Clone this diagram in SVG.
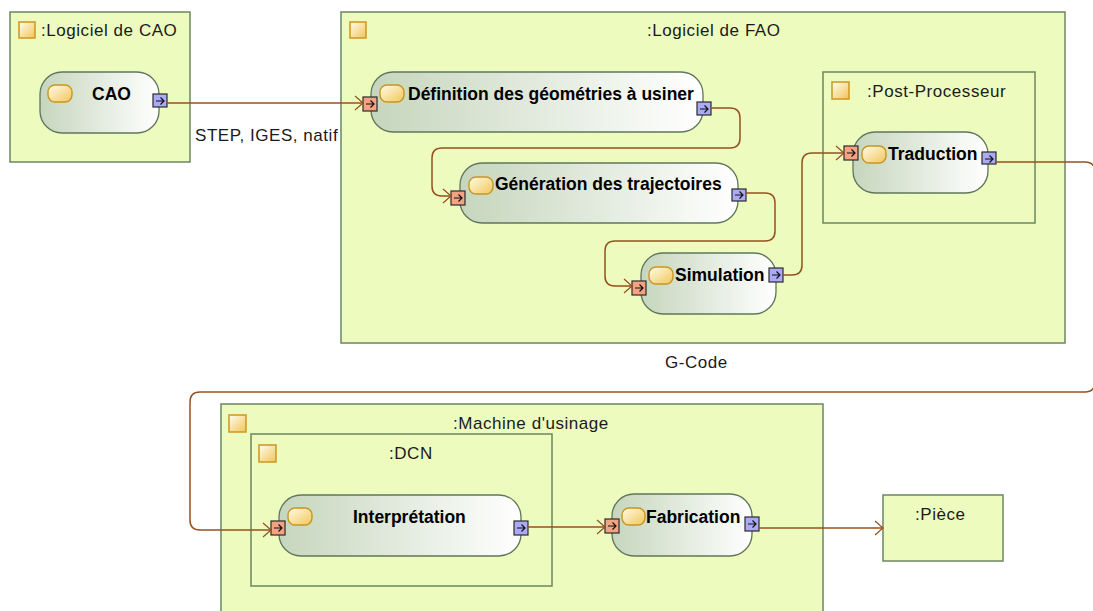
<svg xmlns="http://www.w3.org/2000/svg" width="1093" height="611" viewBox="0 0 1093 611">
<defs>
<linearGradient id="ng" x1="0" y1="0" x2="1" y2="0">
<stop offset="0" stop-color="#c6d6bd"/>
<stop offset="1" stop-color="#ffffff"/>
</linearGradient>
<linearGradient id="ig" x1="0" y1="0" x2="1" y2="1">
<stop offset="0" stop-color="#fffbe8"/>
<stop offset="1" stop-color="#f2c65a"/>
</linearGradient>
<linearGradient id="sg" x1="0" y1="0" x2="1" y2="1">
<stop offset="0" stop-color="#fffdf0"/>
<stop offset="1" stop-color="#f0c458"/>
</linearGradient>
<marker id="arr" markerUnits="userSpaceOnUse" markerWidth="12" markerHeight="16" refX="9" refY="8" orient="auto" overflow="visible">
<path d="M1,1 L9,8 L1,15" fill="none" stroke="#96501e" stroke-width="1.2"/>
</marker>
<g id="pinArrow"><path d="M3,7 H11 M7.5,3.5 L11,7 L7.5,10.5" fill="none" stroke="#111" stroke-width="1.2"/></g>
</defs>
<style>
.box{fill:#edfcbe;stroke:#6b875f;stroke-width:1.5}
.node{fill:url(#ng);stroke:#5f765a;stroke-width:1.3}
.ico{fill:url(#ig);stroke:#c8961e;stroke-width:1.4}
.sq{fill:url(#sg);stroke:#cf9b2a;stroke-width:1.6}
.pin-in{fill:#f5a283;stroke:#2a2a2a;stroke-width:1.2}
.pin-out{fill:#aaaaf6;stroke:#2a2a2a;stroke-width:1.2}
.t{font-family:"Liberation Sans",Arial,sans-serif;font-size:17px;letter-spacing:0.55px;fill:#1a1a1a}
.b{font-family:"Liberation Sans",Arial,sans-serif;font-size:17.5px;font-weight:bold;fill:#000}
.c{fill:none;stroke:#96501e;stroke-width:1.5}
</style>

<g id="logiciel-cao">
<rect class="box" x="10" y="12" width="180" height="150"/>
<rect class="sq" x="19" y="22" width="16" height="16"/>
<text class="t" x="41" y="36">:Logiciel de CAO</text>
</g>
<g id="cao">
<rect class="node" x="40" y="72" width="119" height="61" rx="22"/>
<rect class="ico" x="48" y="85" width="24" height="17" rx="7"/>
<text class="b" x="92" y="100">CAO</text>
<rect class="pin-out" x="153" y="94" width="14" height="13"/>
<use href="#pinArrow" x="153" y="94"/>
</g>

<g id="logiciel-fao">
<rect class="box" x="341" y="12" width="724" height="331"/>
<rect class="sq" x="350" y="22" width="16" height="16"/>
<text class="t" x="647" y="36">:Logiciel de FAO</text>
</g>
<g id="definition">
<rect class="node" x="371" y="72" width="332" height="60" rx="22"/>
<rect class="ico" x="380" y="85" width="24" height="17" rx="7"/>
<text class="b" x="408" y="100">Définition des géométries à usiner</text>
<rect class="pin-in" x="363" y="97" width="14" height="14"/>
<use href="#pinArrow" x="363" y="97"/>
<rect class="pin-out" x="697" y="102" width="14" height="13"/>
<use href="#pinArrow" x="697" y="102"/>
</g>
<g id="generation">
<rect class="node" x="460" y="163" width="278" height="60" rx="22"/>
<rect class="ico" x="469" y="177" width="24" height="17" rx="7"/>
<text class="b" x="495" y="190">Génération des trajectoires</text>
<rect class="pin-in" x="451" y="191" width="14" height="14"/>
<use href="#pinArrow" x="451" y="191"/>
<rect class="pin-out" x="732" y="189" width="14" height="12"/>
<use href="#pinArrow" x="732" y="188"/>
</g>
<g id="simulation">
<rect class="node" x="641" y="253" width="135" height="61" rx="22"/>
<rect class="ico" x="649" y="267" width="24" height="17" rx="7"/>
<text class="b" x="675" y="281">Simulation</text>
<rect class="pin-in" x="632" y="281" width="14" height="14"/>
<use href="#pinArrow" x="632" y="281"/>
<rect class="pin-out" x="769" y="268" width="14" height="14"/>
<use href="#pinArrow" x="769" y="268"/>
</g>
<g id="post-processeur">
<rect class="box" x="823" y="72" width="212" height="151"/>
<rect class="sq" x="832" y="82" width="17" height="17"/>
<text class="t" x="867" y="97">:Post-Processeur</text>
</g>
<g id="traduction">
<rect class="node" x="853" y="132" width="135" height="61" rx="22"/>
<rect class="ico" x="862" y="146" width="24" height="17" rx="7"/>
<text class="b" x="888" y="160">Traduction</text>
<rect class="pin-in" x="844" y="146" width="14" height="14"/>
<use href="#pinArrow" x="844" y="146"/>
<rect class="pin-out" x="982" y="152" width="14" height="12"/>
<use href="#pinArrow" x="982" y="152"/>
</g>

<g id="machine">
<rect class="box" x="221" y="404" width="602" height="220"/>
<rect class="sq" x="229" y="415" width="17" height="17"/>
<text class="t" x="453" y="429">:Machine d'usinage</text>
</g>
<g id="dcn">
<rect class="box" x="251" y="434" width="301" height="152"/>
<rect class="sq" x="259" y="445" width="17" height="17"/>
<text class="t" x="389" y="459">:DCN</text>
</g>
<g id="interpretation">
<rect class="node" x="279" y="495" width="242" height="61" rx="22"/>
<rect class="ico" x="288" y="508" width="24" height="17" rx="7"/>
<text class="b" x="353" y="523">Interprétation</text>
<rect class="pin-in" x="271" y="521" width="14" height="14"/>
<use href="#pinArrow" x="271" y="521"/>
<rect class="pin-out" x="514" y="521" width="14" height="14"/>
<use href="#pinArrow" x="514" y="521"/>
</g>
<g id="fabrication">
<rect class="node" x="612" y="494" width="140" height="62" rx="22"/>
<rect class="ico" x="622" y="508" width="23" height="17" rx="7"/>
<text class="b" x="646" y="523">Fabrication</text>
<rect class="pin-in" x="605" y="519" width="14" height="14"/>
<use href="#pinArrow" x="605" y="519"/>
<rect class="pin-out" x="745" y="517" width="14" height="14"/>
<use href="#pinArrow" x="745" y="517"/>
</g>
<g id="piece">
<rect class="box" x="883" y="495" width="120" height="66"/>
<text class="t" x="915" y="520">:Pièce</text>
</g>

<g id="connectors">
<path class="c" d="M167,103 H363" marker-end="url(#arr)"/>
<path class="c" d="M711,108 H730 Q740,108 740,118 V138 Q740,148 730,148 H442 Q432,148 432,158 V186 Q432,196 442,196 H451" marker-end="url(#arr)"/>
<path class="c" d="M746,193 H765 Q775,193 775,203 V231 Q775,241 765,241 H615 Q605,241 605,251 V276 Q605,286 615,286 H632" marker-end="url(#arr)"/>
<path class="c" d="M783,275 H792 Q802,275 802,265 V163 Q802,153 812,153 H844" marker-end="url(#arr)"/>
<path class="c" d="M996,162 H1085 Q1095,162 1095,172 V382 Q1095,392 1085,392 H200 Q190,392 190,402 V520 Q190,530 200,530 H271" marker-end="url(#arr)"/>
<path class="c" d="M528,527 H605" marker-end="url(#arr)"/>
<path class="c" d="M759,528 H883" marker-end="url(#arr)"/>
<text class="t" x="195" y="141">STEP, IGES, natif</text>
<text class="t" x="665" y="368">G-Code</text>
</g>
</svg>
